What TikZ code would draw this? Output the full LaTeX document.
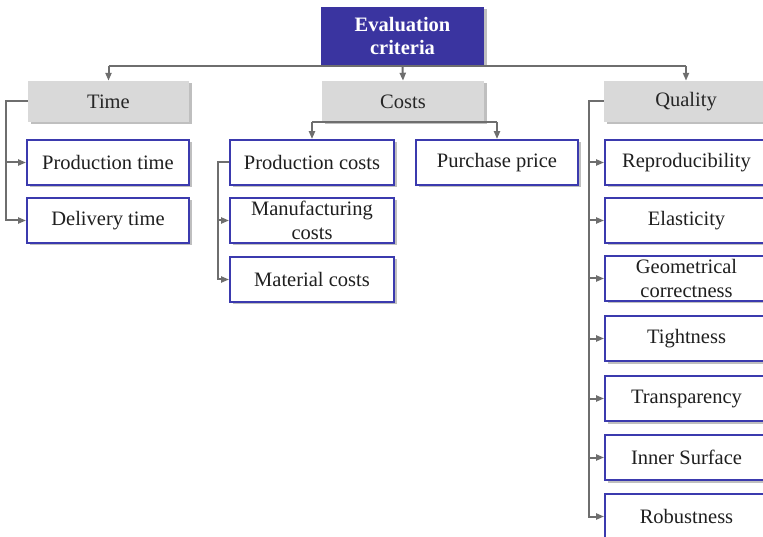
\documentclass[tikz,border=0pt]{standalone}
\usepackage{fontspec}
\setmainfont{Liberation Serif}
\usetikzlibrary{shadows,arrows.meta}
\definecolor{navy}{HTML}{3A34A0}
\definecolor{bordblue}{HTML}{3B3AAE}
\definecolor{catgray}{HTML}{D9D9D9}
\definecolor{lin}{HTML}{6E6E6E}
\begin{document}
\begin{tikzpicture}[x=1pt,y=-1pt,
  every node/.style={font=\fontsize{20.5}{22}\selectfont},
  sh/.style={drop shadow={shadow xshift=2.5pt,shadow yshift=-2.5pt,fill=black,opacity=0.25}},
  topbox/.style={fill=navy,text=white,font=\fontsize{20.5}{23}\selectfont\bfseries,align=center,minimum width=163pt,minimum height=58pt,inner sep=0pt,sh},
  catbox/.style={fill=catgray,text=black!85,minimum height=41pt,inner sep=0pt,sh},
  itembox/.style={draw=bordblue,line width=1.8pt,fill=white,text=black!88,minimum height=45pt,inner sep=0pt,align=center,sh,font=\fontsize{20.5}{24}\selectfont},
  conn/.style={draw=lin,line width=2pt},
  arr/.style={conn,-{Triangle[length=8pt,width=6pt]}}
]
\useasboundingbox (0,0) rectangle (763,537);
\node[topbox] (ec) at (402.5,36) {Evaluation\\criteria};
\node[catbox,minimum width=161pt] (time) at (108.5,101.5) {Time};
\node[catbox,minimum width=162pt] (costs) at (403,101.5) {Costs};
\node[catbox,minimum width=164pt] (qual) at (686,101.5) {Quality};

\node[itembox,minimum width=162pt] (pt) at (108,162.5) {Production time};
\node[itembox,minimum width=162pt] (dt) at (108,220.5) {Delivery time};

\node[itembox,minimum width=164pt] (pc) at (312,162.5) {Production costs};
\node[itembox,minimum width=164pt] (mc) at (312,220.5) {Manufacturing\\costs};
\node[itembox,minimum width=164pt] (mat) at (312,279.5) {Material costs};
\node[itembox,minimum width=162pt] (pp) at (497,162.5) {Purchase price};

\node[itembox,minimum width=163pt] (q1) at (686.5,162.5) {Reproducibility};
\node[itembox,minimum width=163pt] (q2) at (686.5,220.5) {Elasticity};
\node[itembox,minimum width=163pt] (q3) at (686.5,278.5) {Geometrical\\correctness};
\node[itembox,minimum width=163pt] (q4) at (686.5,338.5) {Tightness};
\node[itembox,minimum width=163pt] (q5) at (686.5,398.5) {Transparency};
\node[itembox,minimum width=163pt] (q6) at (686.5,457.5) {Inner Surface};
\node[itembox,minimum width=163pt] (q7) at (686.5,516.5) {Robustness};

\coordinate (bar) at (0,66);
\draw[conn] (time.north |- bar) -- (qual.north |- bar);
\draw[arr] (time.north |- bar) -- (time.north);
\draw[arr] (ec.south) -- (costs.north);
\draw[arr] (qual.north |- bar) -- (qual.north);

\coordinate (tl) at (6,0);
\draw[arr] (time.west) -| (tl |- time.west) |- (dt.west);
\draw[arr] (tl |- pt.west) -- (pt.west);

\draw[conn] (pc.north |- costs.south) -- (pp.north |- costs.south);
\draw[arr] (pc.north |- costs.south) -- (pc.north);
\draw[arr] (pp.north |- costs.south) -- (pp.north);

\coordinate (cl) at (218,0);
\draw[arr] (pc.west) -- (cl |- pc.west) |- (mat.west);
\draw[arr] (cl |- mc.west) -- (mc.west);

\coordinate (ql) at (589,0);
\draw[arr] (qual.west) -- (ql |- qual.west) |- (q7.west);
\foreach \n in {q1,q2,q3,q4,q5,q6}
  \draw[arr] (ql |- \n.west) -- (\n.west);
\end{tikzpicture}
\end{document}
